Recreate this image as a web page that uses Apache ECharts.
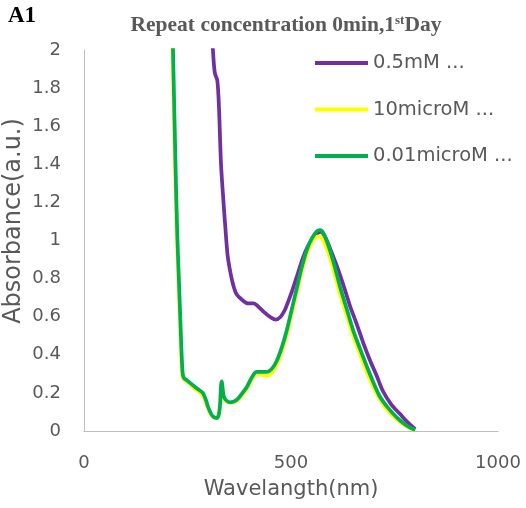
<!DOCTYPE html>
<html><head><meta charset="utf-8">
<script src="https://cdn.jsdelivr.net/npm/echarts@6/dist/echarts.min.js"></script>
<style>html,body{margin:0;padding:0;background:#fff}#c{width:526px;height:508px}</style>
</head><body><div id="c"></div>
<script>
const seriesNames = ['0.5mM ...', '10microM ...', '0.01microM ...'];
const colors = ['#7030A0', '#FFFF00', '#00B050'];

const wlPurple = [306,312,316,322,326,331,337,342,347,353,360,368,381,396,410,420,437,452,463,475,485,495,505,517,529,541,553,565,572,582,594,610,626,642,659,675,691,707,722,742,763,782,800];
const absPurple = [2.2,1.98,1.88,1.84,1.7,1.4,1.2,1.05,0.92,0.84,0.77,0.72,0.69,0.67,0.67,0.655,0.62,0.595,0.585,0.6,0.635,0.69,0.75,0.83,0.91,0.97,1.01,1.04,1.045,1.02,0.96,0.87,0.77,0.66,0.56,0.46,0.37,0.29,0.21,0.14,0.09,0.045,0.01];

const wlYellow = [211,214,219,224,229,234,237,241,252,263,275,287,295,300,307,314,321,326,329,331,333,335,338,344,352,362,372,383,393,405,417,430,442,455,466,478,490,502,514,526,538,550,563,570,578,594,606,618,634,650,667,683,699,715,735,756,778,800];
const absYellow = [2.3,2.0,1.5,1.05,0.75,0.45,0.3,0.27,0.255,0.23,0.21,0.185,0.15,0.115,0.085,0.07,0.068,0.09,0.15,0.23,0.25,0.21,0.17,0.155,0.15,0.15,0.165,0.19,0.22,0.27,0.3,0.295,0.29,0.31,0.35,0.42,0.51,0.62,0.73,0.84,0.93,0.99,1.02,1.02,1.0,0.91,0.82,0.72,0.61,0.5,0.4,0.31,0.23,0.165,0.105,0.06,0.025,0.003];

const wlGreen = [212,215,220,225,230,235,238,241,252,263,275,287,295,300,307,314,321,326,329,331,333,335,338,344,352,362,372,383,393,405,417,430,442,455,466,478,490,502,514,526,538,550,563,570,578,594,606,618,634,650,667,683,699,715,735,756,778,800];
const absGreen = [2.3,2.0,1.5,1.05,0.75,0.45,0.31,0.28,0.26,0.24,0.22,0.2,0.16,0.125,0.09,0.072,0.068,0.09,0.15,0.24,0.26,0.22,0.18,0.16,0.15,0.155,0.17,0.2,0.23,0.28,0.31,0.31,0.31,0.33,0.37,0.44,0.53,0.64,0.75,0.86,0.95,1.01,1.05,1.055,1.04,0.95,0.86,0.76,0.645,0.53,0.43,0.34,0.255,0.18,0.12,0.07,0.03,0.005];

const yTicks = [0,0.2,0.4,0.6,0.8,1,1.2,1.4,1.6,1.8,2];
const xTicks = [0,500,1000];

const wls = [wlPurple, wlYellow, wlGreen];
const abss = [absPurple, absYellow, absGreen];

const chart = echarts.init(document.getElementById('c'));
const labelFont = '"DejaVu Sans", sans-serif';
chart.setOption({
  animation: false,
  backgroundColor: '#fff',
  grid: {left: 84, right: 28, top: 50, bottom: 77, containLabel: false},
  title: {
    text: '{b|Repeat concentration 0min,1}{s|st}{b|Day}',
    left: 281, top: 9, textAlign: 'center',
    textStyle: {rich: {
      b: {fontFamily: '"Liberation Serif", serif', fontWeight: 'bold', fontSize: 21.5, color: '#595959'},
      s: {fontFamily: '"Liberation Serif", serif', fontWeight: 'bold', fontSize: 13, color: '#595959', verticalAlign: 'top', padding: [0,0,8,0]}
    }}
  },
  graphic: [
    {type: 'text', left: 8, top: 5, style: {text: 'A1', font: 'bold 23px "Liberation Serif", serif', fill: '#000'}},
    {type: 'text', x: 14, y: 221, rotation: Math.PI/2, style: {text: 'Absorbance(a.u.)', font: '24px ' + labelFont, fill: '#595959', align: 'center', verticalAlign: 'middle'}}
  ],
  legend: {
    orient: 'vertical', left: 315, top: 53, itemGap: 26.5, padding: 0,
    itemWidth: 53, itemHeight: 4, icon: 'rect',
    data: seriesNames,
    textStyle: {fontFamily: labelFont, fontSize: 19.5, color: '#595959', lineHeight: 20}
  },
  xAxis: {
    type: 'value', min: 0, max: 1000, interval: 500,
    name: 'Wavelangth(nm)', nameLocation: 'middle', nameGap: 48,
    nameTextStyle: {fontFamily: labelFont, fontSize: 21, color: '#595959'},
    axisLine: {show: true, lineStyle: {color: '#BFBFBF', width: 1}},
    axisTick: {show: false}, splitLine: {show: false},
    axisLabel: {margin: 23, fontFamily: labelFont, fontSize: 18, color: '#595959',
      formatter: v => xTicks.includes(v) ? String(v) : ''}
  },
  yAxis: {
    type: 'value', min: 0, max: 2, interval: 0.2,
    axisLine: {show: true, lineStyle: {color: '#BFBFBF', width: 1}},
    axisTick: {show: false}, splitLine: {show: false},
    axisLabel: {margin: 23, fontFamily: labelFont, fontSize: 18, color: '#595959',
      formatter: v => { const t = yTicks.find(k => Math.abs(k - v) < 1e-6); return t === undefined ? '' : String(t); }}
  },
  series: seriesNames.map((n, i) => ({
    name: n, type: 'line', showSymbol: false, symbol: 'none',
    smooth: 0.3, clip: true,
    lineStyle: {color: colors[i], width: 3.75},
    itemStyle: {color: colors[i]},
    data: wls[i].map((w, j) => [w, abss[i][j]])
  }))
});
</script></body></html>
